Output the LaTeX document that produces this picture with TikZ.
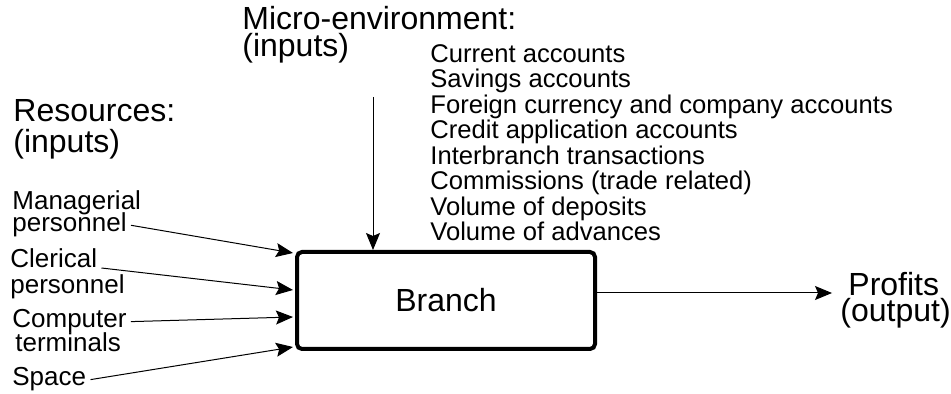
\documentclass[tikz,border=0pt]{standalone}
\usepackage{fontspec}
\setmainfont{Liberation Sans}
\usetikzlibrary{arrows.meta}

\begin{document}
\begin{tikzpicture}[x=0.5pt,y=-0.5pt,
lbl/.style={anchor=base west,inner sep=2pt,font=\fontsize{13}{15}\selectfont},
head/.style={anchor=base west,inner sep=0pt,font=\fontsize{16}{19}\selectfont},
feed/.style={-{Stealth[length=8.5pt,width=7pt,inset=1.5pt]},line width=0.5pt}]
\useasboundingbox (0,0) rectangle (951,394);

\node (branch) [draw,line width=2pt,rounded corners=2.5pt,
    minimum width=149pt,minimum height=48.5pt,
    font=\fontsize{16}{19}\selectfont] at (446,300.5) {Branch};

% headings
\node (res1) [head] at (13,122) {Resources:};
\node (res2) [head] at (13,153) {(inputs)};
\node (env1) [head] at (242,30) {Micro-environment:};
\node (env2) [head] at (242,57) {(inputs)};
\node (prof1) [head] at (848,296) {Profits};
\node (prof2) [head] at (840,322) {(output)};

% micro-environment items (base = last line)
\node (accts) [anchor=base west,inner sep=0pt,align=left,
    font=\fontsize{12.8}{12.75}\selectfont] at (430,241) {Current accounts\\
    Savings accounts\\
    Foreign currency and company accounts\\
    Credit application accounts\\
    Interbranch transactions\\
    Commissions (trade related)\\
    Volume of deposits\\
    Volume of advances};

% resources
\node (mgr1) [lbl] at (8,210) {Managerial};
\node (mgr2) [lbl] at (8,232) {personnel};
\node (clr1) [lbl] at (6,268) {Clerical};
\node (clr2) [lbl] at (6,294) {personnel};
\node (cmp1) [lbl] at (8,328) {Computer};
\node (cmp2) [lbl] at (11,352) {terminals};
\node (spc) [lbl] at (8,386) {Space};

\draw[feed] (mgr2.east) -- ([xshift=-1pt,yshift=23.75pt]branch.west);
\draw[feed] (clr1.base east) -- ([xshift=-1pt,yshift=5.25pt]branch.west);
\draw[feed] (cmp1.east) -- ([xshift=-1pt,yshift=-8.25pt]branch.west);
\draw[feed] (spc.east) -- ([xshift=-1pt,yshift=-23.25pt]branch.west);

\coordinate (envtop) at (373,97);
\draw[feed] (envtop) -- (envtop |- branch.north);

\coordinate (outtip) at (832,293);
\draw[feed] (branch.east |- outtip) -- (outtip);
\end{tikzpicture}
\end{document}
